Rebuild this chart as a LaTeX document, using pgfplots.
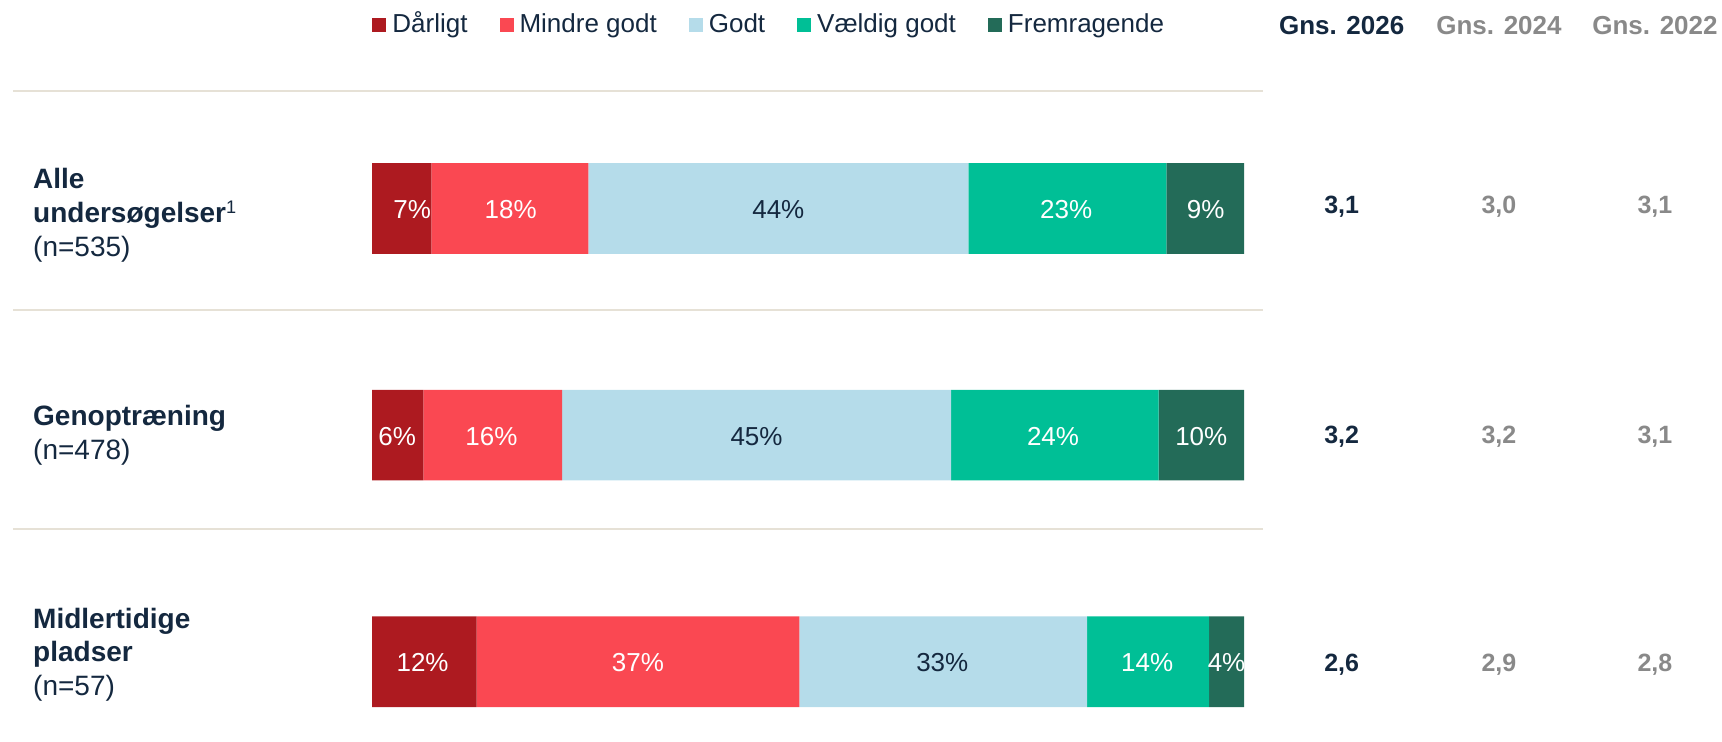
\documentclass[border=0pt]{standalone}
\usepackage{fontspec}
\setmainfont{Liberation Sans}
\usepackage{pgfplots}
\pgfplotsset{compat=1.18}
\definecolor{c1}{HTML}{AD1A20}
\definecolor{c2}{HTML}{FA4852}
\definecolor{c3}{HTML}{B5DCEA}
\definecolor{c4}{HTML}{00BF96}
\definecolor{c5}{HTML}{236B58}
\definecolor{navy}{HTML}{14283F}
\definecolor{gry}{HTML}{898989}
\definecolor{sepc}{HTML}{E6E1D6}
\newcommand\fs{\fontsize{13}{16}\selectfont}
\newcommand\fl{\fontsize{14}{17}\selectfont}
\newcommand\fv{\fontsize{12.5}{15}\selectfont}
\pgfplotsset{base/.style={scale only axis, width=861pt, height=371pt,
  xmin=-42.66, xmax=154.82, ymin=-0.920, ymax=2.354, y dir=reverse,
  hide axis, clip=false}}
\begin{document}
\begin{tikzpicture}
\path[use as bounding box] (0,0) rectangle (861pt,371pt);
\begin{axis}[base, xbar stacked, bar width=0.4,
  legend style={at={(axis cs:0,-0.800)}, anchor=west, draw=none, fill=none,
    inner sep=0pt, font=\fs, text=navy,
    nodes={inner sep=0pt, text height=7pt, text depth=2pt},
    /tikz/every odd column/.append style={column sep=3pt},
    /tikz/every even column/.append style={column sep=16pt}},
  legend columns=-1, legend cell align=left,
  legend image code/.code={\fill[#1] (0pt,-2.2pt) rectangle (7pt,4.8pt);}]
\addplot[fill=c1, draw=none] coordinates {(6.8,0) (5.9,1) (12,2)};
\addplot[fill=c2, draw=none] coordinates {(18.0,0) (15.9,1) (37,2)};
\addplot[fill=c3, draw=none] coordinates {(43.6,0) (44.6,1) (33,2)};
\addplot[fill=c4, draw=none] coordinates {(22.7,0) (23.8,1) (14,2)};
\addplot[fill=c5, draw=none] coordinates {(8.9,0) (9.8,1) (4,2)};
\legend{Dårligt, Mindre godt, Godt, Vældig godt, Fremragende}
\end{axis}
\begin{axis}[base]
\addplot[sepc, line width=1pt, mark=none] coordinates {(-41.17,-0.5185) (102.18,-0.5185)};
\addplot[sepc, line width=1pt, mark=none] coordinates {(-41.17,0.448) (102.18,0.448)};
\addplot[sepc, line width=1pt, mark=none] coordinates {(-41.17,1.414) (102.18,1.414)};
% bar value labels
\addplot[draw=none, mark=none, nodes near coords, point meta=explicit symbolic,
  every node near coord/.append style={anchor=center, text=white, font=\fs}]
  coordinates {(4.6,0.005)[7\%] (15.9,0.005)[18\%] (79.6,0.005)[23\%] (95.6,0.005)[9\%]
               (2.9,1.005)[6\%] (13.7,1.005)[16\%] (78.1,1.005)[24\%] (95.1,1.005)[10\%]
               (5.8,2.005)[12\%] (30.5,2.005)[37\%] (88.9,2.005)[14\%] (98,2.005)[4\%]};
\addplot[draw=none, mark=none, nodes near coords, point meta=explicit symbolic,
  every node near coord/.append style={anchor=center, text=navy, font=\fs}]
  coordinates {(46.6,0.005)[44\%] (44.1,1.005)[45\%] (65.4,2.005)[33\%]};
% averages
\addplot[draw=none, mark=none, nodes near coords, point meta=explicit symbolic,
  every node near coord/.append style={anchor=center, text=navy, font=\fv\bfseries}]
  coordinates {(111.2,-0.008)[{3,1}] (111.2,1.006)[{3,2}] (111.2,2.014)[{2,6}]};
\addplot[draw=none, mark=none, nodes near coords, point meta=explicit symbolic,
  every node near coord/.append style={anchor=center, text=gry, font=\fv\bfseries}]
  coordinates {(129.24,-0.008)[{3,0}] (129.24,1.006)[{3,2}] (129.24,2.014)[{2,9}]
               (147.13,-0.008)[{3,1}] (147.13,1.006)[{3,1}] (147.13,2.014)[{2,8}]};
% headers
\node[anchor=base, text=navy, font=\fs\bfseries, inner sep=0pt] at (axis cs:111.2,-0.7657) {Gns. 2026};
\node[anchor=base, text=gry, font=\fs\bfseries, inner sep=0pt] at (axis cs:129.24,-0.7657) {Gns. 2024};
\node[anchor=base, text=gry, font=\fs\bfseries, inner sep=0pt] at (axis cs:147.13,-0.7657) {Gns. 2022};
% row labels
\begin{scope}[every node/.style={anchor=base west, text=navy, font=\fl, inner sep=0pt}]
\node at (axis cs:-38.9,-0.0883) {\bfseries Alle};
\node at (axis cs:-38.9,0.0618) {\bfseries undersøgelser{\mdseries\fs\textsuperscript{1}}};
\node at (axis cs:-38.9,0.2118) {(n=535)};
\node at (axis cs:-38.9,0.9554) {\bfseries Genoptræning};
\node at (axis cs:-38.9,1.1055) {(n=478)};
\node at (axis cs:-38.9,1.8545) {\bfseries Midlertidige};
\node at (axis cs:-38.9,1.997) {\bfseries pladser};
\node at (axis cs:-38.9,2.147) {(n=57)};
\end{scope}
\end{axis}
\end{tikzpicture}
\end{document}
